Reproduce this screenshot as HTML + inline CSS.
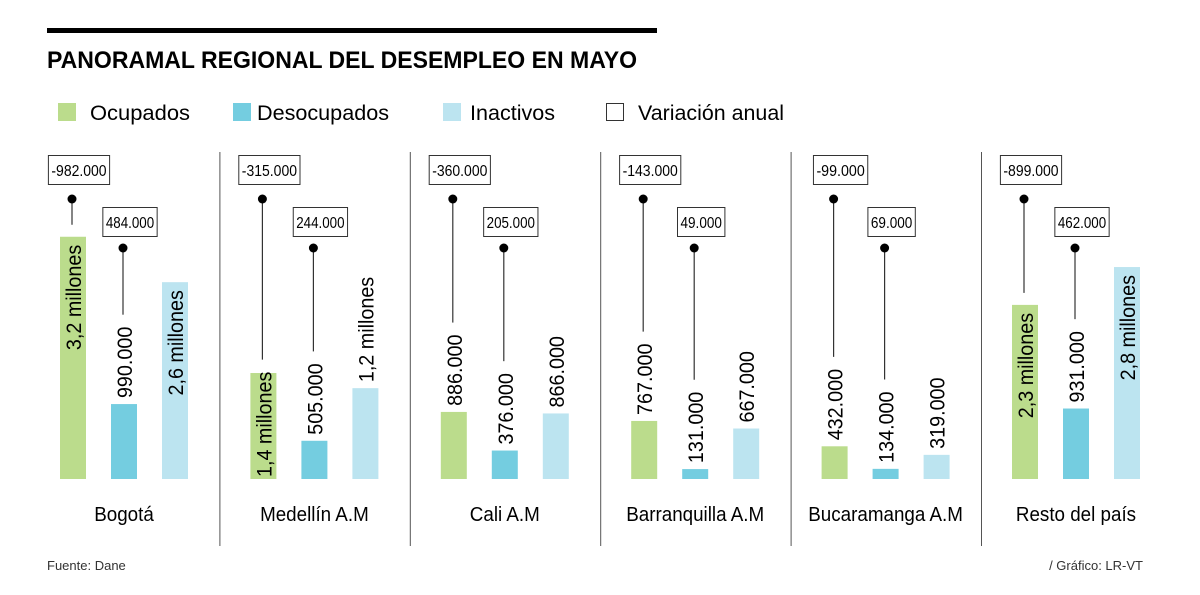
<!DOCTYPE html>
<html><head><meta charset="utf-8"><style>
html,body{margin:0;padding:0;background:#fff;}
svg{display:block;font-family:"Liberation Sans",sans-serif;}
</style></head><body>
<svg id="c" width="1200" height="595" viewBox="0 0 1200 595">
<rect x="47" y="28" width="610" height="5" fill="#000"/>
<text x="47" y="68" font-size="24" font-weight="bold" textLength="590" lengthAdjust="spacingAndGlyphs">PANORAMAL REGIONAL DEL DESEMPLEO EN MAYO</text>
<g>
<rect x="58" y="103" width="18" height="18" fill="#bbdc8c"/>
<text x="90" y="120" font-size="21" textLength="100" lengthAdjust="spacingAndGlyphs">Ocupados</text>
<rect x="233" y="103" width="18" height="18" fill="#74cde0"/>
<text x="257" y="120" font-size="21" textLength="132" lengthAdjust="spacingAndGlyphs">Desocupados</text>
<rect x="443" y="103" width="18" height="18" fill="#bce4f0"/>
<text x="470" y="120" font-size="21" textLength="85" lengthAdjust="spacingAndGlyphs">Inactivos</text>
<rect x="606.5" y="103.5" width="17" height="17" fill="none" stroke="#333" stroke-width="1"/>
<text x="638" y="120" font-size="21" textLength="146" lengthAdjust="spacingAndGlyphs">Variación anual</text>
</g>
<g id="plot"></g>
<text x="47" y="570" font-size="13" fill="#333">Fuente: Dane</text>
<text x="1143" y="570" font-size="13" fill="#333" text-anchor="end">/ Gráfico: LR-VT</text>
</svg>
<script>
const regions = ["Bogotá","Medellín A.M","Cali A.M","Barranquilla A.M","Bucaramanga A.M","Resto del país"];
const ocupados = [3200000,1400000,886000,767000,432000,2300000];
const desocupados = [990000,505000,376000,131000,134000,931000];
const inactivos = [2600000,1200000,866000,667000,319000,2800000];
const ocupadosLabels = ["3,2 millones","1,4 millones","886.000","767.000","432.000","2,3 millones"];
const desocupadosLabels = ["990.000","505.000","376.000","131.000","134.000","931.000"];
const inactivosLabels = ["2,6 millones","1,2 millones","866.000","667.000","319.000","2,8 millones"];
const varOcupados = ["-982.000","-315.000","-360.000","-143.000","-99.000","-899.000"];
const varDesocupados = ["484.000","244.000","205.000","49.000","69.000","462.000"];

const NS="http://www.w3.org/2000/svg";
const plot=document.getElementById('plot');
const baseY=479, pxPerUnit=75.7/1e6;
const y=v=>baseY-v*pxPerUnit;
const panelX=i=>60+i*190.4;
const colors=["#bbdc8c","#74cde0","#bce4f0"];
const series=[ocupados,desocupados,inactivos];
const labels=[ocupadosLabels,desocupadosLabels,inactivosLabels];
const keys=["ocupados","desocupados","inactivos"];
function mk(tag,attrs){const e=document.createElementNS(NS,tag);for(const k in attrs)e.setAttribute(k,attrs[k]);plot.appendChild(e);return e;}

for(let i=0;i<regions.length;i++){
  const px=panelX(i);
  if(i>0){
    const d=mk('line',{x1:px-30.5,x2:px-30.5,y1:152,y2:546,stroke:'#555','stroke-width':1});
    
    
  }
  const cat=mk('text',{x:px+64,y:521,'font-size':20,'text-anchor':'middle'});
  cat.textContent=regions[i];
  
  
  const lw=cat.getComputedTextLength();
  cat.setAttribute('textLength',lw*0.94);
  cat.setAttribute('lengthAdjust','spacingAndGlyphs');
  const labelTops=[];
  for(let s=0;s<3;s++){
    const bx=px+s*51, v=series[s][i], top=y(v), h=baseY-top, cx=bx+13;
    const r=mk('rect',{x:bx,y:top,width:26,height:h,fill:colors[s]});
    
    
    const t=mk('text',{'font-size':21,fill:'#000'});
    t.textContent=labels[s][i];
    
    
    const len=t.getComputedTextLength()*0.94;
    t.setAttribute('textLength',len);
    t.setAttribute('lengthAdjust','spacingAndGlyphs');
    let ly, anchor, ltop;
    if(h>=len+14){anchor='end';ly=top+8;ltop=top;}
    else if(h>=100){anchor='start';ly=baseY-2;ltop=ly-len;}
    else{anchor='start';ly=top-6;ltop=ly-len;}
    t.setAttribute('text-anchor',anchor);
    t.setAttribute('transform','translate('+(cx+8)+','+ly+') rotate(-90)');
    labelTops.push(Math.min(ltop,top));
  }
  const vars=[varOcupados[i],varDesocupados[i]];
  const boxY=[155,207], dotY=[199,248];
  for(let s=0;s<2;s++){
    const cx=px+s*51+12;
    const ln=mk('line',{x1:cx,x2:cx,y1:dotY[s],y2:labelTops[s]-12,stroke:'#333','stroke-width':1.2});
    
    
    const dot=mk('circle',{cx:cx,cy:dotY[s],r:4.5,fill:'#000'});
    
    
    const bx=mk('rect',{y:boxY[s]+0.5,height:29,fill:'#fff',stroke:'#333','stroke-width':1});
    
    
    const vt=mk('text',{'font-size':16,'text-anchor':'middle',x:cx+7,y:boxY[s]+21});
    vt.textContent=vars[s];
    
    
    vt.setAttribute('textLength',vars[s].length*6.9);
    vt.setAttribute('lengthAdjust','spacingAndGlyphs');
    const w=vars[s].length*6.9+6;
    bx.setAttribute('x',cx+7-w/2);
    bx.setAttribute('width',w);
  }
}
</script>
</body></html>
